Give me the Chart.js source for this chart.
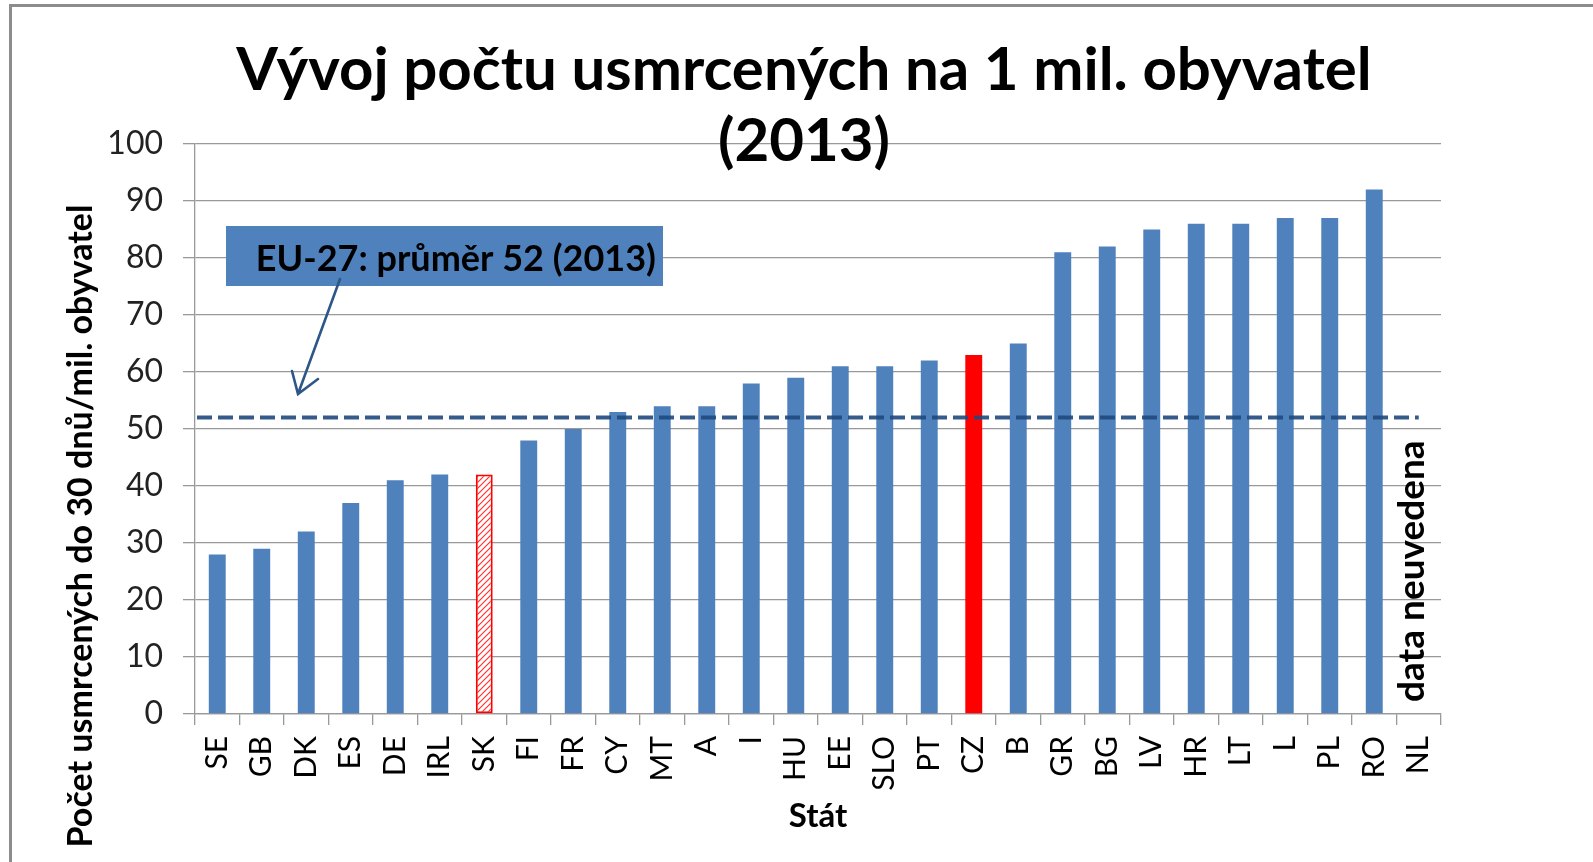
<!DOCTYPE html>
<html>
<head>
<meta charset="utf-8">
<script src="https://cdn.jsdelivr.net/npm/chart.js@4/dist/chart.umd.min.js"></script>
<style>
  html, body { margin: 0; padding: 0; background: #fff; }
  #wrap { position: relative; width: 1593px; height: 862px; }
  #frame { position: absolute; left: 9px; top: 4px; right: 0; bottom: 0;
           border-top: 3px solid #8c8c8c; border-left: 3px solid #8c8c8c; }
  canvas { position: absolute; left: 0; top: 0; }
</style>
</head>
<body>
<div id="wrap">
  <div id="frame"></div>
  <canvas id="BarChart" width="1593" height="862"></canvas>
</div>
<script>
// data
const countries = ['SE', 'GB', 'DK', 'ES', 'DE', 'IRL', 'SK', 'FI', 'FR', 'CY', 'MT', 'A', 'I', 'HU',
    'EE', 'SLO', 'PT', 'CZ', 'B', 'GR', 'BG', 'LV', 'HR', 'LT', 'L', 'PL', 'RO', 'NL'];
const deaths = [28, 29, 32, 37, 41, 42, 42, 48, 50, 53, 54, 54, 58, 59,
    61, 61, 62, 63, 65, 81, 82, 85, 86, 86, 87, 87, 92, null];
const euAverage = 52;
const yTicks = [0, 10, 20, 30, 40, 50, 60, 70, 80, 90, 100];

const titleLines = ['Vývoj počtu usmrcených na 1 mil. obyvatel', '(2013)'];
const yTitle = 'Počet usmrcených do 30 dnů/mil. obyvatel';
const xTitle = 'Stát';
const euLabel = 'EU-27: průměr 52 (2013)';
const missingLabel = 'data neuvedena';
const missingCountry = 'NL';

// hatched fill for SK
function hatch() {
    const c = document.createElement('canvas');
    c.width = 6; c.height = 6;
    const g = c.getContext('2d');
    g.fillStyle = '#fff';
    g.fillRect(0, 0, 6, 6);
    g.strokeStyle = '#ff3030';
    g.lineWidth = 1.2;
    g.beginPath();
    g.moveTo(0, 6); g.lineTo(6, 0);
    g.moveTo(-3, 3); g.lineTo(3, -3);
    g.moveTo(3, 9); g.lineTo(9, 3);
    g.stroke();
    return g.createPattern(c, 'repeat');
}
const skPattern = hatch();

const barColors = countries.map(c => c === 'SK' ? skPattern : c === 'CZ' ? '#ff0000' : '#4f81bd');
const borderColors = countries.map(c => c === 'SK' ? '#ff0000' : 'rgba(0,0,0,0)');
const borderWidths = countries.map(c => c === 'SK' ? 2 : 0);

const extras = {
    id: 'extras',
    afterDatasetsDraw(chart) {
        const ctx = chart.ctx;
        const x = chart.scales.x, y = chart.scales.y;
        ctx.save();

        // EU average dashed line
        const ly = y.getPixelForValue(euAverage);
        ctx.strokeStyle = 'rgba(31,73,125,0.9)';
        ctx.lineWidth = 4;
        ctx.setLineDash([15, 6]);
        ctx.beginPath();
        ctx.moveTo(chart.chartArea.left + 2, ly);
        ctx.lineTo(x.getPixelForValue(countries.length - 1), ly);
        ctx.stroke();
        ctx.setLineDash([]);

        // missing data note
        const nx = x.getPixelForValue(countries.indexOf(missingCountry));
        ctx.save();
        ctx.translate(nx - 7, y.getPixelForValue(0) - 12);
        ctx.rotate(-Math.PI / 2);
        ctx.font = 'bold 37px Lato';
        ctx.fillStyle = '#000';
        ctx.textAlign = 'left';
        ctx.textBaseline = 'middle';
        ctx.fillText(missingLabel, 0, 0);
        ctx.restore();

        // annotation box + arrow
        ctx.fillStyle = '#4f81bd';
        ctx.fillRect(226, 226, 437, 60);
        ctx.fillStyle = '#000';
        ctx.font = 'bold 36px Lato';
        ctx.textAlign = 'right';
        ctx.textBaseline = 'middle';
        ctx.fillText(euLabel, 656, 259);

        ctx.strokeStyle = '#2c5788';
        ctx.lineWidth = 2.6;
        ctx.lineCap = 'round';
        ctx.beginPath();
        ctx.moveTo(340, 279);
        ctx.lineTo(298, 394);
        ctx.moveTo(292, 371);
        ctx.lineTo(298, 394);
        ctx.lineTo(318, 379);
        ctx.stroke();

        // title
        ctx.fillStyle = '#000';
        ctx.font = 'bold 60px Lato';
        ctx.textAlign = 'center';
        ctx.textBaseline = 'middle';
        ctx.fillText(titleLines[0], 804, 71);
        ctx.fillText(titleLines[1], 804, 142);

        // axis titles
        ctx.font = 'bold 33px Lato';
        ctx.fillText(xTitle, 818, 816);
        ctx.save();
        ctx.translate(81, 526);
        ctx.rotate(-Math.PI / 2);
        ctx.font = 'bold 34px Lato';
        ctx.fillText(yTitle, 0, 0);
        ctx.restore();

        ctx.restore();
    }
};

const ctx = document.getElementById('BarChart').getContext('2d');
const BarChart = new Chart(ctx, {
    type: 'bar',
    data: {
        labels: countries,
        datasets: [{
            data: deaths,
            backgroundColor: barColors,
            borderColor: borderColors,
            borderWidth: borderWidths,
            borderSkipped: false,
            categoryPercentage: 1,
            barPercentage: 0.38
        }]
    },
    options: {
        responsive: false,
        animation: false,
        layout: { padding: { top: 144, right: 152, left: 0, bottom: 0 } },
        plugins: {
            legend: { display: false },
            tooltip: { enabled: false }
        },
        scales: {
            y: {
                min: 0,
                max: 100,
                afterFit: s => { s.width = 195; },
                afterBuildTicks: s => { s.ticks = yTicks.map(v => ({ value: v })); },
                grid: { color: '#999', lineWidth: 1.3, tickLength: 12 },
                border: { color: '#999', width: 1.3 },
                ticks: {
                    padding: 20,
                    color: '#222',
                    font: { family: 'Lato', size: 32 }
                }
            },
            x: {
                afterFit: s => { s.height = 148; },
                grid: { drawOnChartArea: false, color: '#999', lineWidth: 1.3, tickLength: 11 },
                border: { color: '#999', width: 1.3 },
                ticks: {
                    minRotation: 90,
                    maxRotation: 90,
                    padding: 11,
                    color: '#000',
                    font: { family: 'Lato', size: 30 }
                }
            }
        }
    },
    plugins: [extras]
});
</script>
</body>
</html>
